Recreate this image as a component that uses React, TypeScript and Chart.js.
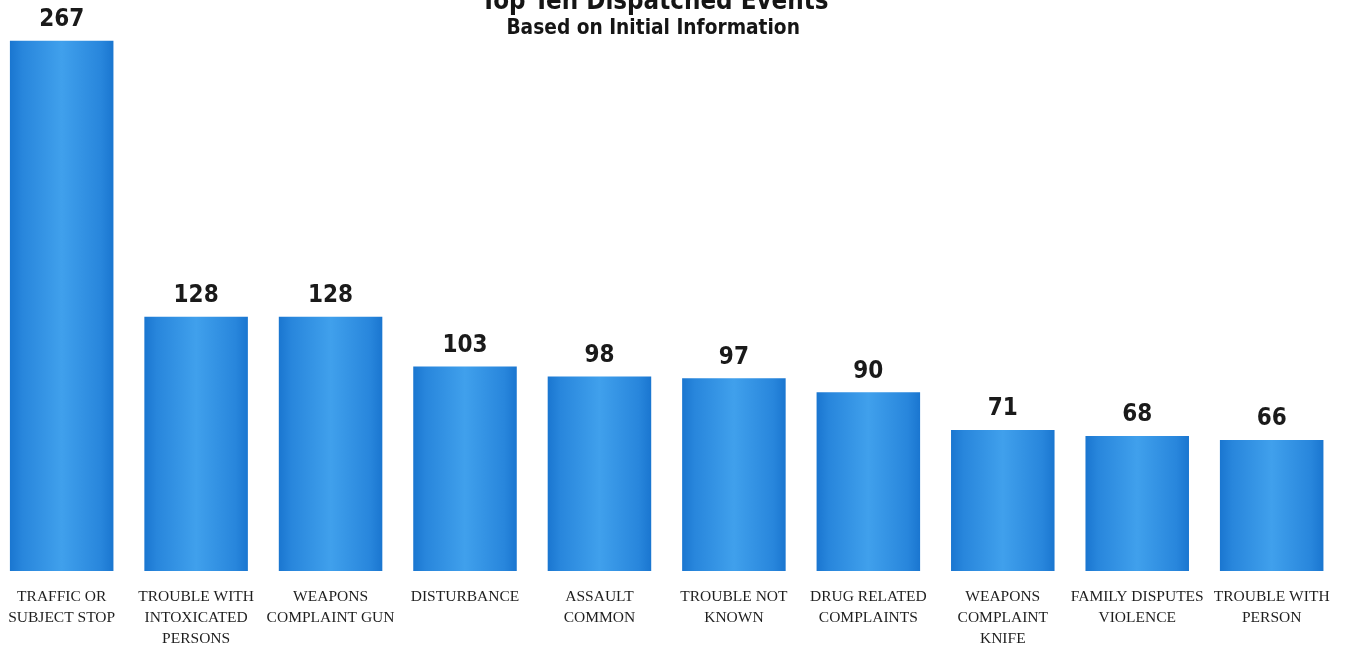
import React, { useEffect, useRef } from "react";
import { Chart, registerables } from "chart.js";

Chart.register(...registerables);

const categories: string[][] = [
  ["TRAFFIC OR", "SUBJECT STOP"],
  ["TROUBLE WITH", "INTOXICATED", "PERSONS"],
  ["WEAPONS", "COMPLAINT GUN"],
  ["DISTURBANCE"],
  ["ASSAULT", "COMMON"],
  ["TROUBLE NOT", "KNOWN"],
  ["DRUG RELATED", "COMPLAINTS"],
  ["WEAPONS", "COMPLAINT", "KNIFE"],
  ["FAMILY DISPUTES", "VIOLENCE"],
  ["TROUBLE WITH", "PERSON"],
];

const counts: number[] = [267, 128, 128, 103, 98, 97, 90, 71, 68, 66];

const titleText = "Top Ten Dispatched Events";
const subtitleText = "Based on Initial Information";

const BAR_FRACTION = 0.77;

export default function App() {
  const ref = useRef<HTMLCanvasElement>(null);

  useEffect(() => {
    const canvas = ref.current;
    if (!canvas) return;

    const valuePlugin = {
      id: "valueLabels",
      afterDatasetsDraw(chart: any) {
        const c = chart.ctx;
        const meta = chart.getDatasetMeta(0);
        c.save();
        c.font = "bold 24px 'DejaVu Sans Condensed', 'DejaVu Sans', sans-serif";
        c.fillStyle = "#1a1a1a";
        c.textAlign = "center";
        c.textBaseline = "alphabetic";
        meta.data.forEach((bar: any, i: number) => {
          c.fillText(String(counts[i]), bar.x, bar.y - 14.5);
        });
        c.restore();
      },
    };

    const titlePlugin = {
      id: "topTitle",
      afterDraw(chart: any) {
        const c = chart.ctx;
        const ca = chart.chartArea;
        const cx = (ca.left + ca.right) / 2 - 12;
        c.save();
        c.fillStyle = "#151515";
        c.textAlign = "center";
        c.textBaseline = "alphabetic";
        c.font = "bold 25.7px 'DejaVu Sans Condensed', 'DejaVu Sans', sans-serif";
        c.fillText(titleText, cx, 9);
        c.font = "bold 20.7px 'DejaVu Sans Condensed', 'DejaVu Sans', sans-serif";
        c.fillText(subtitleText, cx - 1.5, 34);
        c.restore();
      },
    };

    const chart = new Chart(canvas, {
      type: "bar",
      data: {
        labels: categories,
        datasets: [
          {
            data: counts,
            barPercentage: BAR_FRACTION,
            categoryPercentage: 1,
            borderWidth: 0,
            backgroundColor: (ctx: any) => {
              const ch = ctx.chart;
              const xs = ch.scales && ch.scales.x;
              if (!ch.chartArea || !xs || ctx.dataIndex == null) return "#2b8ee2";
              const xc = xs.getPixelForValue(ctx.dataIndex);
              const w = (xs.width / categories.length) * BAR_FRACTION;
              const g = ch.ctx.createLinearGradient(xc - w / 2, 0, xc + w / 2, 0);
              g.addColorStop(0, "#1a76d0");
              g.addColorStop(0.12, "#2886dc");
              g.addColorStop(0.5, "#40a0ec");
              g.addColorStop(0.88, "#2886dc");
              g.addColorStop(1, "#1a76d0");
              return g;
            },
          },
        ],
      },
      options: {
        responsive: true,
        maintainAspectRatio: false,
        animation: false,
        layout: { padding: { top: 5, bottom: 0, left: 0, right: 0 } },
        plugins: {
          legend: { display: false },
          title: { display: false },
          tooltip: { enabled: false },
        },
        scales: {
          x: {
            grid: { display: false, drawTicks: false },
            border: { display: false },
            afterFit: (axis: any) => {
              axis.height = 74;
            },
            ticks: {
              autoSkip: false,
              maxRotation: 0,
              minRotation: 0,
              padding: 15.5,
              color: "#1e1e1e",
              font: {
                family: "'Liberation Serif', 'Times New Roman', serif",
                size: 15.5,
                lineHeight: 1.34,
              },
            },
          },
          y: {
            display: false,
            min: 0,
            max: 285,
          },
        },
      },
      plugins: [valuePlugin, titlePlugin],
    });

    return () => chart.destroy();
  }, []);

  return (
    <div style={{ position: "absolute", left: -7, top: 0, width: 1352, height: 645 }}>
      <canvas ref={ref} />
    </div>
  );
}
